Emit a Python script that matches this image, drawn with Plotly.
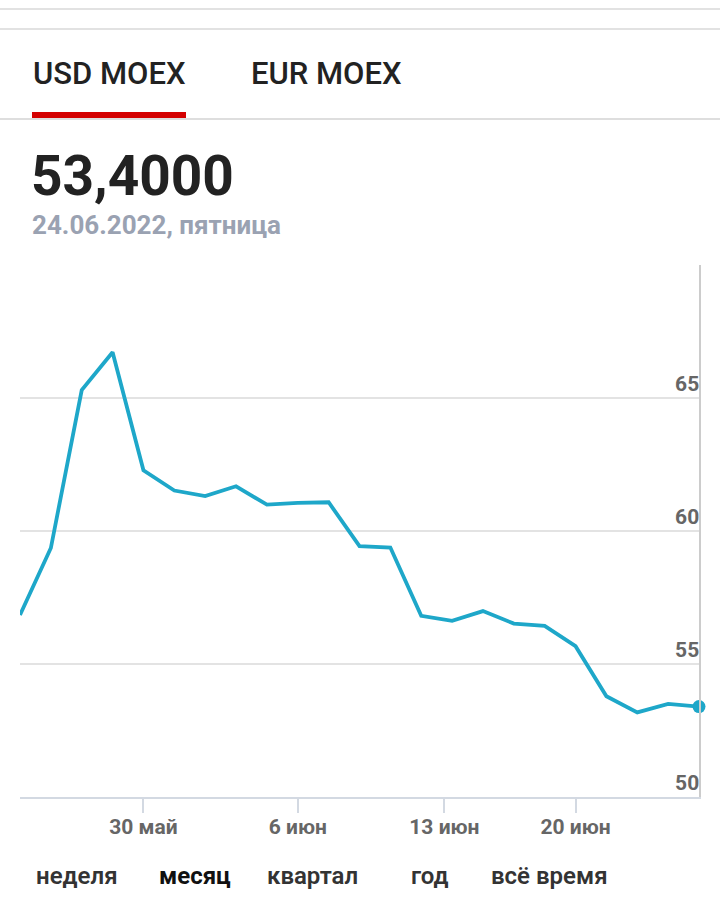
import numpy as np
import pandas as pd
import plotly.graph_objects as go

# USD MOEX, trading days (13 June was a holiday)
dates = ["2022-05-24", "2022-05-25", "2022-05-26", "2022-05-27", "2022-05-30",
         "2022-05-31", "2022-06-01", "2022-06-02", "2022-06-03", "2022-06-06",
         "2022-06-07", "2022-06-08", "2022-06-09", "2022-06-10", "2022-06-14",
         "2022-06-15", "2022-06-16", "2022-06-17", "2022-06-20", "2022-06-21",
         "2022-06-22", "2022-06-23", "2022-06-24"]
usd = [56.84, 59.36, 65.30, 66.72, 62.28, 61.52, 61.31, 61.68, 60.99, 61.06,
       61.08, 59.43, 59.38, 56.81, 56.62, 56.99, 56.52, 56.43, 55.67, 53.79,
       53.18, 53.50, 53.40]

tick_dates = ["2022-05-30", "2022-06-06", "2022-06-13", "2022-06-20"]
tick_text = ["30 май", "6 июн", "13 июн", "20 июн"]
y_ticks = [50, 55, 60, 65]

periods = ["неделя", "месяц", "квартал", "год", "всё время"]
active_period = "месяц"

W, H = 720, 920
FONT = "Roboto, 'Noto Sans', sans-serif"
LINE = "#1ea7c9"

# x is the trading-day index; ticks interpolated between days in calendar time
idx = np.arange(len(dates))
day_num = pd.to_datetime(pd.Series(dates)).map(pd.Timestamp.toordinal).values
tick_num = pd.to_datetime(pd.Series(tick_dates)).map(pd.Timestamp.toordinal).values
tick_pos = np.interp(tick_num, day_num, idx)


def px(x):
    return x / W


def py(y):
    return 1 - y / H


fig = go.Figure()
fig.add_trace(go.Scatter(x=idx, y=usd, mode="lines",
                         line=dict(color=LINE, width=3.8), hoverinfo="skip"))
fig.add_trace(go.Scatter(x=[idx[-1]], y=[usd[-1]], mode="markers",
                         marker=dict(color=LINE, size=13), cliponaxis=False,
                         hoverinfo="skip"))

annotations = [
    dict(text="USD MOEX", x=px(31), y=py(73), font=dict(size=31, color="#222", weight=500)),
    dict(text="EUR MOEX", x=px(249), y=py(73), font=dict(size=31, color="#222", weight=500)),
    dict(text=f"{usd[-1]:.4f}".replace(".", ","), x=px(29), y=py(176),
         font=dict(size=55, color="#222", weight=700)),
    dict(text="24.06.2022, пятница", x=px(30), y=py(225),
         font=dict(size=26, color="#9aa2b2", weight=700)),
]
period_x = [34, 157, 265, 409, 489]
for name, x in zip(periods, period_x):
    on = name == active_period
    annotations.append(dict(text=name, x=px(x), y=py(876),
                            font=dict(size=24, color="#111" if on else "#333",
                                      weight=700 if on else 600)))
for a in annotations:
    a.update(xref="paper", yref="paper", xanchor="left", yanchor="middle",
             showarrow=False, font_family=FONT)

shapes = [
    dict(type="line", x0=0, x1=1, y0=py(9), y1=py(9), line=dict(color="#e2e2e2", width=2)),
    dict(type="line", x0=0, x1=1, y0=py(29), y1=py(29), line=dict(color="#e2e2e2", width=2)),
    dict(type="line", x0=0, x1=1, y0=py(119), y1=py(119), line=dict(color="#dedede", width=2)),
    dict(type="rect", x0=px(32), x1=px(186), y0=py(112), y1=py(118),
         fillcolor="#d40000", line=dict(width=0)),
]
for s in shapes:
    s.update(xref="paper", yref="paper")

fig.update_layout(
    width=W, height=H, margin=dict(l=0, r=0, t=0, b=0),
    paper_bgcolor="white", plot_bgcolor="white", showlegend=False,
    font=dict(family=FONT),
    annotations=annotations, shapes=shapes,
    xaxis=dict(domain=[px(20), px(699)], range=[0, len(dates) - 1],
               tickvals=tick_pos, ticktext=tick_text,
               ticks="outside", ticklen=14, tickwidth=1.5, tickcolor="#d3d9e2",
               ticklabelstandoff=-4,
               showline=True, linecolor="#d3d9e2", linewidth=2,
               showgrid=False, zeroline=False,
               tickfont=dict(size=21, color="#666", weight=700)),
    yaxis=dict(domain=[py(797), py(265)], range=[50, 70], side="right",
               tickvals=y_ticks, ticks="", ticklabelposition="inside top",
               showline=True, linecolor="#cccccc", linewidth=2,
               showgrid=True, gridcolor="#e3e3e3", gridwidth=1.5, zeroline=False,
               tickfont=dict(size=21, color="#666", weight=700)),
)

# page has a default 8px body margin; drop it so the figure sits at 0,0
fig.write_html("out.html", config={"displayModeBar": False},
               post_script="document.body.style.margin='0';")
